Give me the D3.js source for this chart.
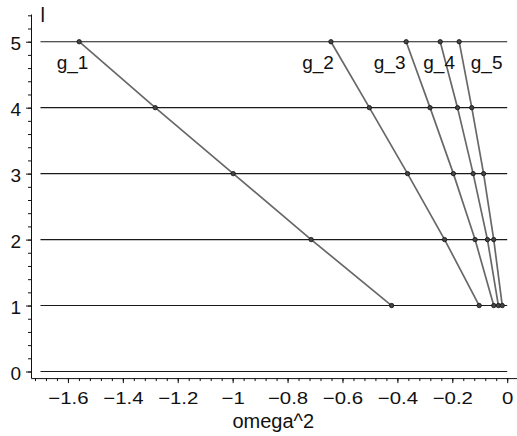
<!DOCTYPE html>
<html>
<head>
<meta charset="utf-8">
<script src="https://cdn.jsdelivr.net/npm/d3@7"></script>
<style>
  body { margin: 0; background: #fff; }
  svg { display: block; font-family: "Liberation Sans", Arial, sans-serif; }
</style>
</head>
<body>
<div id="chart"></div>
<script>
const W = 517, H = 436;

// data
const levels = [5, 4, 3, 2, 1];
const hLines = [0, 1, 2, 3, 4, 5];
const hLineFrom = -1.7, hLineTo = 0;
const seriesNames = ["g_1", "g_2", "g_3", "g_4", "g_5"];
const g1 = [-1.559, -1.282, -0.998, -0.714, -0.421];
const g2 = [-0.642, -0.502, -0.363, -0.228, -0.102];
const g3 = [-0.368, -0.281, -0.196, -0.117, -0.049];
const g4 = [-0.244, -0.181, -0.124, -0.072, -0.032];
const g5 = [-0.175, -0.129, -0.086, -0.049, -0.018];
const labelX = [-1.583, -0.689, -0.428, -0.248, -0.075];
const labelY = 4.59;
const xTicksMajor = [-1.6, -1.4, -1.2, -1, -0.8, -0.6, -0.4, -0.2, 0];
const yTicksMajor = [0, 1, 2, 3, 4, 5];
const xTitle = "omega^2";
const yTitle = "l";

const series = [g1, g2, g3, g4, g5].map((vals, i) => ({
    name: seriesNames[i],
    points: vals.map((v, j) => ({x: v, y: levels[j]})),
    lx: labelX[i]
}));

const svg = d3.select("#chart").append("svg")
    .attr("width", W)
    .attr("height", H);

const x = d3.scaleLinear().domain([-1.7345, 0.0357]).range([31, 517]);
const y = d3.scaleLinear().domain([-0.1, 5.42]).range([378.1, 14]);

const xMinor = d3.range(-43, 1).map(i => +(i * 0.04).toFixed(2));
const yMinor = d3.range(0, 28).map(i => +(i * 0.2).toFixed(1));
const fmt = d3.format("~g");

// x axis, minor then major
svg.append("g")
    .attr("transform", `translate(0, ${y(-0.1)})`)
    .call(d3.axisBottom(x).tickValues(xMinor).tickSize(3).tickSizeOuter(0).tickFormat(""))
    .call(g => g.select(".domain").attr("stroke", "#111"));

const xAxis = svg.append("g")
    .attr("transform", `translate(0, ${y(-0.1)})`)
    .call(d3.axisBottom(x).tickValues(xTicksMajor).tickSize(5).tickSizeOuter(0).tickFormat(fmt));
xAxis.select(".domain").remove();
xAxis.selectAll("text")
    .attr("y", null).attr("dy", null)
    .attr("transform", "translate(0, 25.5) scale(1.2, 1)")
    .attr("font-size", "17px")
    .attr("fill", "#111")
    .attr("font-family", "Liberation Sans, Arial, sans-serif");

// y axis
svg.append("g")
    .attr("transform", `translate(${x.range()[0]}, 0)`)
    .call(d3.axisLeft(y).tickValues(yMinor).tickSize(3).tickSizeOuter(0).tickFormat(""))
    .call(g => g.select(".domain").attr("stroke", "#111"));

const yAxis = svg.append("g")
    .attr("transform", `translate(${x.range()[0]}, 0)`)
    .call(d3.axisLeft(y).tickValues(yTicksMajor).tickSize(5).tickSizeOuter(0).tickFormat(fmt));
yAxis.select(".domain").remove();
yAxis.selectAll("text")
    .attr("x", null).attr("dy", null)
    .attr("transform", "translate(-10, 8)")
    .attr("font-size", "19px")
    .attr("fill", "#111")
    .attr("font-family", "Liberation Sans, Arial, sans-serif");

svg.selectAll(".tick line").attr("stroke", "#111");

// horizontal level lines
svg.append("g")
    .selectAll("line")
    .data(hLines)
    .enter()
    .append("line")
    .attr("x1", x(hLineFrom))
    .attr("x2", x(hLineTo))
    .attr("y1", d => y(d))
    .attr("y2", d => y(d))
    .attr("stroke", "#1a1a1a")
    .attr("stroke-width", 1.1);

// series lines
const line = d3.line().x(d => x(d.x)).y(d => y(d.y));
svg.append("g")
    .selectAll("path")
    .data(series)
    .enter()
    .append("path")
    .attr("d", d => line(d.points))
    .attr("fill", "none")
    .attr("stroke", "#686868")
    .attr("stroke-width", 1.7);

// dots
svg.append("g")
    .selectAll("circle")
    .data(series.flatMap(s => s.points))
    .enter()
    .append("circle")
    .attr("cx", d => x(d.x))
    .attr("cy", d => y(d.y))
    .attr("r", 2.2)
    .attr("fill", "#444")
    .attr("stroke", "#111")
    .attr("stroke-width", 0.8);

// series labels
svg.append("g")
    .selectAll("text")
    .data(series)
    .enter()
    .append("text")
    .attr("x", d => x(d.lx))
    .attr("y", y(labelY))
    .attr("text-anchor", "middle")
    .attr("font-size", "19px")
    .attr("fill", "#111")
    .text(d => d.name);

// axis titles
svg.append("text")
    .attr("x", 273.3)
    .attr("y", 428.3)
    .attr("text-anchor", "middle")
    .attr("font-size", "20px")
    .attr("fill", "#111")
    .text(xTitle);

svg.append("text")
    .attr("x", 40.5)
    .attr("y", 21.7)
    .attr("font-size", "20px")
    .attr("fill", "#111")
    .text(yTitle);
</script>
</body>
</html>
